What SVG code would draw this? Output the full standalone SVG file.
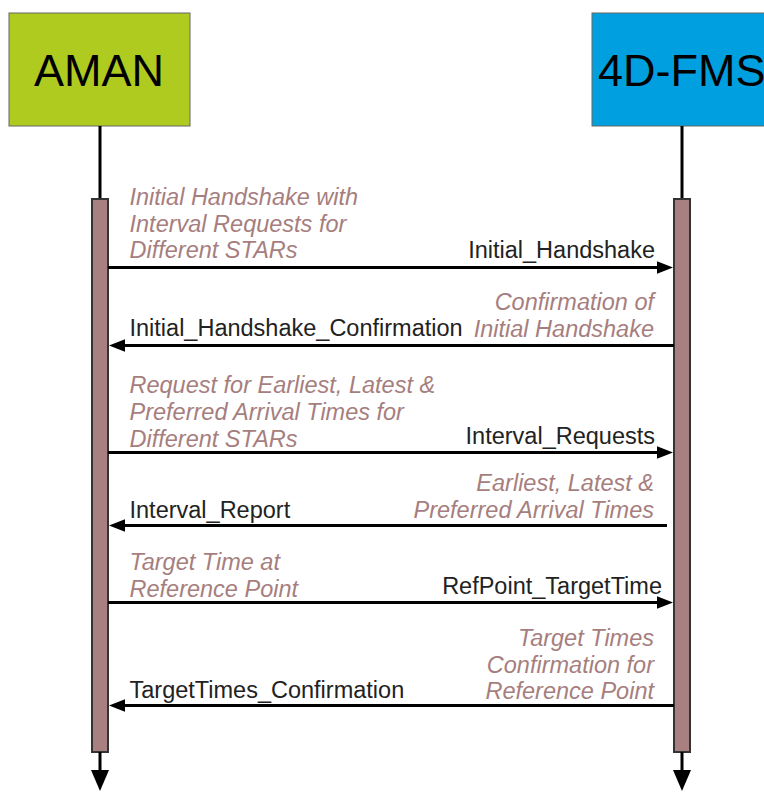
<svg xmlns="http://www.w3.org/2000/svg" width="764" height="792" viewBox="0 0 764 792">
<style>
.title{font-family:"Liberation Sans",Arial,sans-serif;font-size:45px;fill:#000}
.lbl{font-family:"Liberation Sans",Arial,sans-serif;font-size:23.5px;fill:#222}
.note{font-family:"Liberation Sans",Arial,sans-serif;font-size:23.5px;font-style:italic;fill:#a67e7e}
.life{stroke:#000;stroke-width:3;fill:none}
.bar{fill:#a88080;stroke:#333;stroke-width:2}
.msg{stroke:#000;stroke-width:3;fill:none}
.head{fill:#000}
</style>
<rect width="764" height="792" fill="#fff"/>
<g id="aman">
<rect x="9" y="13" width="181" height="113" fill="#b0cb1f" stroke="#666" stroke-width="1"/>
<text class="title" x="99" y="86" text-anchor="middle">AMAN</text>
<line class="life" x1="100" y1="126" x2="100" y2="199"/>
<rect class="bar" x="92" y="199" width="16" height="553"/>
<line class="life" x1="100" y1="752" x2="100" y2="772"/>
<polygon class="head" points="91,770 109,770 100,791"/>
</g>
<g id="fms">
<rect x="592" y="13" width="180" height="113" fill="#00a0e0" stroke="#666" stroke-width="1"/>
<text class="title" x="598" y="86">4D-FMS</text>
<line class="life" x1="682" y1="126" x2="682" y2="199"/>
<rect class="bar" x="674" y="199" width="16" height="553"/>
<line class="life" x1="682" y1="752" x2="682" y2="772"/>
<polygon class="head" points="673,770 691,770 682,791"/>
</g>
<g id="connectors">
<line class="msg" x1="108" y1="267.5" x2="660" y2="267.5"/>
<polygon class="head" points="673,267.5 657,261.2 657,273.8"/>
<line class="msg" x1="674" y1="345.5" x2="122" y2="345.5"/>
<polygon class="head" points="109,345.5 125,339.2 125,351.8"/>
<line class="msg" x1="108" y1="452.5" x2="660" y2="452.5"/>
<polygon class="head" points="673,452.5 657,446.2 657,458.8"/>
<line class="msg" x1="667" y1="525.5" x2="122" y2="525.5"/>
<polygon class="head" points="109,525.5 125,519.2 125,531.8"/>
<line class="msg" x1="108" y1="602.5" x2="660" y2="602.5"/>
<polygon class="head" points="673,602.5 657,596.2 657,608.8"/>
<line class="msg" x1="674" y1="705.5" x2="122" y2="705.5"/>
<polygon class="head" points="109,705.5 125,699.2 125,711.8"/>
</g>
<g id="m1">
<text class="note" x="129.5" y="205">Initial Handshake with</text>
<text class="note" x="129.5" y="231.5">Interval Requests for</text>
<text class="note" x="129.5" y="258">Different STARs</text>
<text class="lbl" x="655" y="257.5" text-anchor="end">Initial_Handshake</text>
</g>
<g id="m2">
<text class="note" x="654" y="310" text-anchor="end">Confirmation of</text>
<text class="note" x="654" y="336.5" text-anchor="end">Initial Handshake</text>
<text class="lbl" x="129.5" y="335.5">Initial_Handshake_Confirmation</text>
</g>
<g id="m3">
<text class="note" x="129.5" y="393">Request for Earliest, Latest &amp;</text>
<text class="note" x="129.5" y="420">Preferred Arrival Times for</text>
<text class="note" x="129.5" y="446.5">Different STARs</text>
<text class="lbl" x="655" y="444" text-anchor="end">Interval_Requests</text>
</g>
<g id="m4">
<text class="note" x="654" y="491" text-anchor="end">Earliest, Latest &amp;</text>
<text class="note" x="654" y="517.5" text-anchor="end">Preferred Arrival Times</text>
<text class="lbl" x="129.5" y="517.5">Interval_Report</text>
</g>
<g id="m5">
<text class="note" x="129.5" y="570">Target Time at</text>
<text class="note" x="129.5" y="596.5">Reference Point</text>
<text class="lbl" x="662" y="594" text-anchor="end">RefPoint_TargetTime</text>
</g>
<g id="m6">
<text class="note" x="654" y="646" text-anchor="end">Target Times</text>
<text class="note" x="654" y="672.5" text-anchor="end">Confirmation for</text>
<text class="note" x="654" y="699" text-anchor="end">Reference Point</text>
<text class="lbl" x="129.5" y="697.5">TargetTimes_Confirmation</text>
</g>
</svg>
